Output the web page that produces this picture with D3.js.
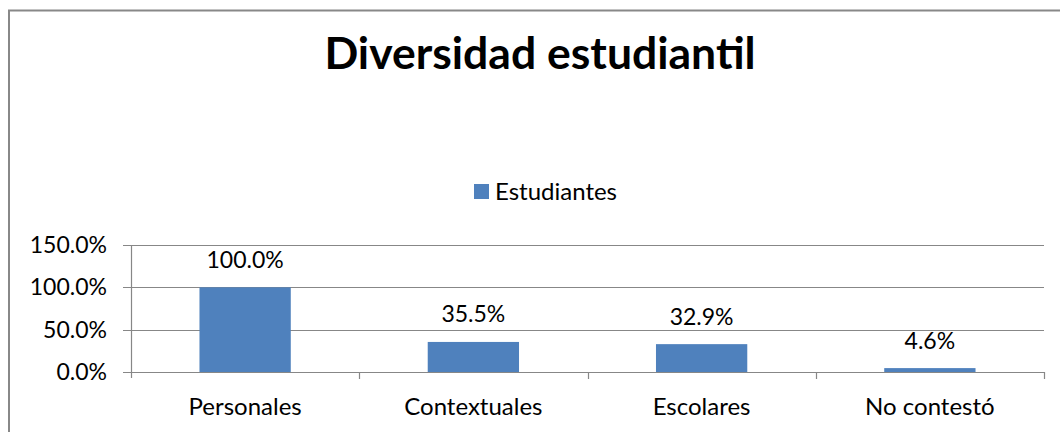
<!DOCTYPE html>
<html>
<head>
<meta charset="utf-8">
<script src="https://cdn.jsdelivr.net/npm/d3@7"></script>
<style>
    body { margin: 0; background: #fff; }
    svg { display: block; font-family: Lato, "Open Sans", sans-serif; }
</style>
</head>
<body>
<svg width="1060" height="432"></svg>
<script>
const categories = ["Personales", "Contextuales", "Escolares", "No contestó"];
const values = [1.0, 0.355, 0.329, 0.046];
const yTicks = [0, 0.5, 1.0, 1.5];
const seriesName = "Estudiantes";

const svg = d3.select("svg");
const margin = { left: 131, right: 1044, top: 245, bottom: 372 };

// chart frame (only left and top edges show in the crop)
svg.append("rect")
    .attr("x", 9).attr("y", 10.5)
    .attr("width", 1100).attr("height", 500)
    .attr("fill", "none")
    .attr("stroke", "#888")
    .attr("stroke-width", 2);

const x = d3.scaleBand()
    .domain(categories)
    .range([margin.left, margin.right])
    .paddingInner(0.6)
    .paddingOuter(0.3);

const y = d3.scaleLinear()
    .domain([0, 1.5])
    .range([margin.bottom, margin.top]);

// gridlines
svg.append("g")
    .selectAll("line")
    .data(yTicks)
    .enter().append("line")
    .attr("x1", margin.left - 8)
    .attr("x2", margin.right)
    .attr("y1", d => Math.round(y(d)) + 0.5)
    .attr("y2", d => Math.round(y(d)) + 0.5)
    .attr("stroke", "#878787")
    .attr("stroke-width", 1.2);

// y axis line
svg.append("line")
    .attr("x1", margin.left + 0.5).attr("x2", margin.left + 0.5)
    .attr("y1", margin.top).attr("y2", margin.bottom + 6)
    .attr("stroke", "#878787")
    .attr("stroke-width", 1.2);

// x ticks at category boundaries
const step = (margin.right - margin.left) / categories.length;
svg.append("g")
    .selectAll("line")
    .data(d3.range(1, categories.length + 1))
    .enter().append("line")
    .attr("x1", i => Math.round(margin.left + i * step) + 0.5)
    .attr("x2", i => Math.round(margin.left + i * step) + 0.5)
    .attr("y1", margin.bottom)
    .attr("y2", margin.bottom + 7)
    .attr("stroke", "#878787")
    .attr("stroke-width", 1.2);

// y labels
svg.append("g")
    .selectAll("text")
    .data(yTicks)
    .enter().append("text")
    .attr("x", 107)
    .attr("y", d => y(d) + 8)
    .attr("text-anchor", "end")
    .attr("font-size", 23)
    .attr("fill", "#000")
    .text(d => d3.format(".1%")(d));

// bars
svg.append("g")
    .selectAll("rect")
    .data(values)
    .enter().append("rect")
    .attr("x", (d, i) => x(categories[i]))
    .attr("y", d => y(d))
    .attr("width", x.bandwidth())
    .attr("height", d => y(0) - y(d))
    .attr("fill", "#4f81bd");

// value labels
svg.append("g")
    .selectAll("text")
    .data(values)
    .enter().append("text")
    .attr("x", (d, i) => x(categories[i]) + x.bandwidth() / 2)
    .attr("y", d => y(d) - 19.5)
    .attr("text-anchor", "middle")
    .attr("font-size", 23)
    .text(d => d3.format(".1%")(d));

// category labels
svg.append("g")
    .selectAll("text")
    .data(categories)
    .enter().append("text")
    .attr("x", d => x(d) + x.bandwidth() / 2)
    .attr("y", 415)
    .attr("text-anchor", "middle")
    .attr("font-size", 24)
    .text(d => d);

// legend
svg.append("rect")
    .attr("x", 474).attr("y", 184)
    .attr("width", 15).attr("height", 15)
    .attr("fill", "#4f81bd");
svg.append("text")
    .attr("x", 495).attr("y", 200)
    .attr("font-size", 24)
    .text(seriesName);

// title
svg.append("text")
    .attr("x", 540).attr("y", 69)
    .attr("text-anchor", "middle")
    .attr("font-size", 44.5)
    .attr("font-weight", "bold")
    .text("Diversidad estudiantil");
</script>
</body>
</html>
